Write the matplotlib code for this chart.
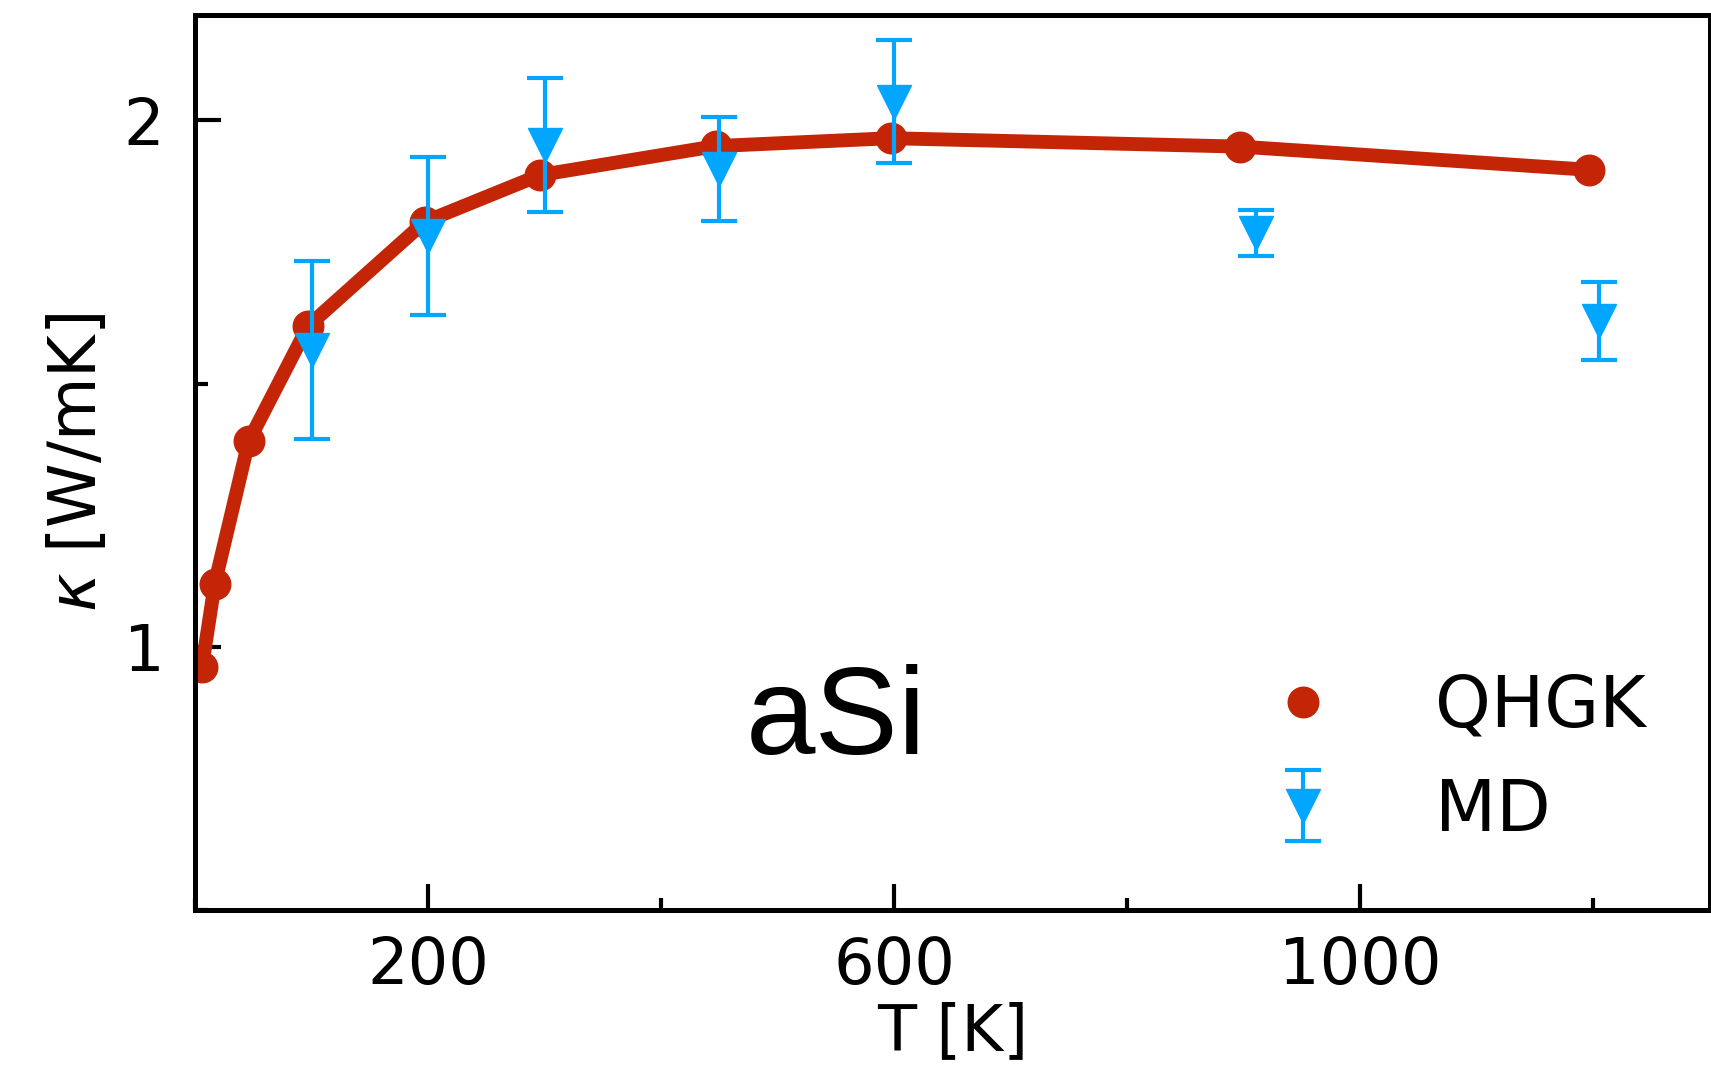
import numpy as np
import matplotlib
matplotlib.use("Agg")
import matplotlib.pyplot as plt
from matplotlib.ticker import FixedLocator, MultipleLocator

################################################# Data
# QHGK (red line + circles)
T_qhgk = [6, 17, 46, 97, 197, 296, 447, 597, 897, 1196]
k_qhgk = [0.961, 1.120, 1.390, 1.609, 1.807, 1.896, 1.951, 1.966, 1.950, 1.906]

# MD (blue triangles with error bars)
T_md = [100, 200, 300, 450, 600, 910, 1205]
k_md = [1.564, 1.781, 1.953, 1.907, 2.035, 1.786, 1.618]
err_md = [0.169, 0.150, 0.127, 0.099, 0.117, 0.044, 0.074]

x_major = [200, 600, 1000]
x_minor = [0, 400, 800, 1200]
y_major = [1, 2]

red = "#c42507"
blue = "#00a6ff"

################################################# Plot
W, H = 1711, 1066
fig = plt.figure(figsize=(W / 100, H / 100), dpi=100)
ax = fig.add_axes([195 / W, 1 - 910 / H, (1710 - 195) / W, (910 - 15) / H])

ax.plot(T_qhgk, k_qhgk, "-", color=red, lw=10, zorder=2)
ax.plot(T_qhgk, k_qhgk, "o", color=red, ms=22, zorder=2, label="QHGK")
ax.errorbar(T_md, k_md, yerr=err_md, fmt="v", color=blue, ms=25,
            elinewidth=3, capsize=13, capthick=3, zorder=3, label="MD")

ax.set_xlim(0, 1300)
ax.set_ylim(0.5, 2.2)
ax.xaxis.set_major_locator(FixedLocator(x_major))
ax.xaxis.set_minor_locator(FixedLocator(x_minor))
ax.yaxis.set_major_locator(FixedLocator(y_major))
ax.yaxis.set_minor_locator(MultipleLocator(0.5))
ax.tick_params(which="both", direction="in", width=3, top=False, right=False)
ax.tick_params(which="major", length=19, labelsize=46)
ax.tick_params(which="minor", length=9)
ax.tick_params(axis="x", which="major", pad=18)
ax.tick_params(axis="y", which="major", pad=22)
for s in ax.spines.values():
    s.set_linewidth(3.6)

ax.set_xlabel("T [K]", fontsize=46, labelpad=3)
ax.set_ylabel(r"$\kappa$ [W/mK]", fontsize=47, labelpad=10)

ax.text(473, 0.796, "aSi", fontsize=90, family="Liberation Sans", ha="left", va="baseline")

ax.legend(loc="upper left", bbox_to_anchor=(0.7077, 0.265), frameon=False, fontsize=51,
          numpoints=1, borderpad=0, borderaxespad=0, handlelength=1.0,
          handletextpad=1.37, labelspacing=0.49)

fig.savefig("out.png", dpi=100)
